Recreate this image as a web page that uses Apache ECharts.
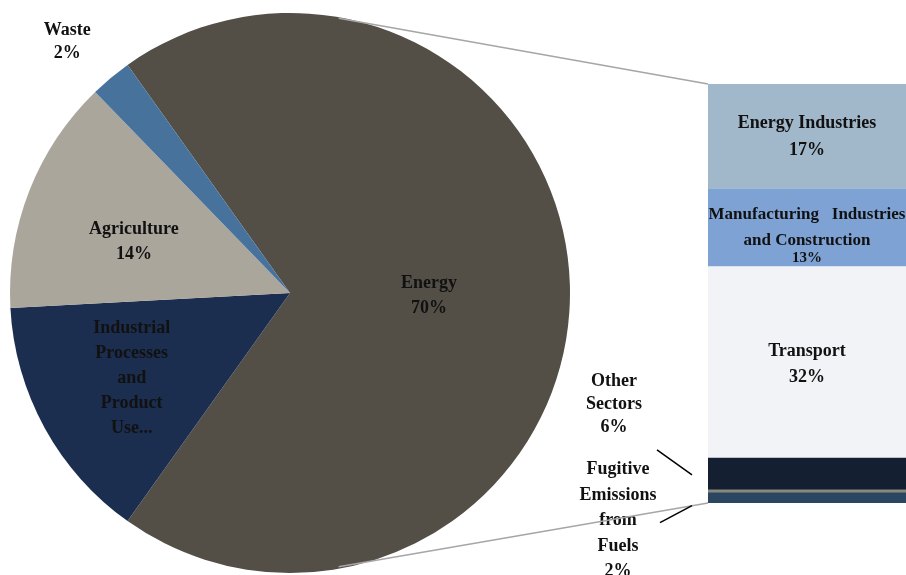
<!DOCTYPE html>
<html>
<head>
<meta charset="utf-8">
<script src="https://cdn.jsdelivr.net/npm/echarts@6/dist/echarts.min.js"></script>
<style>html,body{margin:0;padding:0;background:#fff}#c{width:906px;height:575px}</style>
</head>
<body>
<div id="c"></div>
<script>
// ---- data ----
const pieNames = ['Energy', 'Industrial Processes and Product Use', 'Agriculture', 'Waste'];
const pieValues = [69.7, 14.3, 13.6, 2.4];
const pieLabels = ['Energy\n70%', 'Industrial\nProcesses\nand\nProduct\nUse...', 'Agriculture\n14%', '{w|Waste}\n{w|2%}'];

const barNames = ['Fugitive Emissions from Fuels', 'Other Sectors', 'Transport', 'Manufacturing Industries and Construction', 'Energy Industries'];
const barValues = [2.1, 5.5, 31.9, 13.0, 17.4];
const barLabels = ['Fugitive\nEmissions\nfrom\nFuels\n2%', 'Other\nSectors\n6%', 'Transport\n32%', '{a|Manufacturing   Industries}\n{a|and Construction}\n{b|13%}', 'Energy Industries\n17%'];

// ---- style ----
const FONT = 'Liberation Serif';
const pieColors = ['#534f47', '#1b2e4f', '#aaa69c', '#46729c'];
const barColors = ['#2b4660', '#141f31', '#f2f3f7', '#7fa2d4', '#a1b7ca'];
const PIE_C = [290, 293], PIE_R = 280;
const GRID = {left: 708, top: 84, width: 208, bottom: 72};

const chart = echarts.init(document.getElementById('c'));
const barTotal = barValues.reduce((a, b) => a + b, 0);
const pieTotal = pieValues.reduce((a, b) => a + b, 0);
const startAngle = (pieValues[0] / pieTotal) * 180;

const pieOffsets = [[-4, 3], [-33, 16], [-23, 1], [12, -24]];
const pieLineHeights = [25, 25, 25, 23];

const barSeries = barValues.map((v, i) => {
  const s = {
    type: 'bar', stack: 'e', name: barNames[i], data: [v],
    barWidth: '100%',
    itemStyle: {color: barColors[i]},
    label: {
      show: true, position: 'inside', formatter: barLabels[i],
      fontFamily: FONT, fontWeight: 'bold', fontSize: 18, lineHeight: 26, color: '#111'
    },
    emphasis: {disabled: true}
  };
  if (i === 4) { s.label.lineHeight = 27; s.labelLayout = {dx: 0, dy: 1}; }
  if (i === 2) { s.labelLayout = {dx: 0, dy: 3}; }
  if (i === 3) {
    s.label.rich = {
      a: {fontFamily: FONT, fontWeight: 'bold', fontSize: 17, lineHeight: 26, color: '#111'},
      b: {fontFamily: FONT, fontWeight: 'bold', fontSize: 15, lineHeight: 10, color: '#111'}
    };
    s.labelLayout = {dx: 0, dy: 5};
  }
  if (i === 0 || i === 1) {
    s.label.position = 'left';
    s.label.align = 'center';
    s.label.lineHeight = i === 0 ? 25.5 : 23;
    s.labelLayout = i === 0 ? {dx: -85, dy: 24} : {dx: -89, dy: -70};
  }
  return s;
});

const pieData = pieValues.map((v, i) => {
  const d = {name: pieNames[i], value: v, itemStyle: {color: pieColors[i]}};
  if (i === 3) {
    d.label = {
      position: 'outside',
      rich: {w: {fontFamily: FONT, fontWeight: 'bold', fontSize: 18, lineHeight: 23, width: 52, align: 'center', color: '#111'}}
    };
  } else {
    d.label = {lineHeight: pieLineHeights[i]};
  }
  return d;
});

chart.setOption({
  animation: false,
  grid: {left: GRID.left, top: GRID.top, width: GRID.width, bottom: GRID.bottom},
  xAxis: {type: 'category', data: ['Energy'], show: false},
  yAxis: {type: 'value', min: 0, max: barTotal, show: false},
  series: [
    {
      type: 'pie', center: PIE_C, radius: PIE_R, startAngle: startAngle, clockwise: true,
      avoidLabelOverlap: false,
      data: pieData,
      label: {
        show: true, position: 'inside',
        formatter: p => pieLabels[p.dataIndex],
        fontFamily: FONT, fontWeight: 'bold', fontSize: 18, lineHeight: 25, color: '#111'
      },
      labelLine: {show: false, length: 15, length2: 15},
      labelLayout: p => ({dx: pieOffsets[p.dataIndex][0], dy: pieOffsets[p.dataIndex][1]}),
      emphasis: {disabled: true},
      itemStyle: {borderWidth: 0}
    }
  ].concat(barSeries)
});

// connector lines and leader lines computed from chart geometry (added directly, no re-layout)
const topPt = chart.convertToPixel({gridIndex: 0}, [0, barTotal]);
const botPt = chart.convertToPixel({gridIndex: 0}, [0, 0]);
const fugTop = chart.convertToPixel({gridIndex: 0}, [0, barValues[0]]);
const otherTop = chart.convertToPixel({gridIndex: 0}, [0, barValues[0] + barValues[1]]);
const barLeft = GRID.left;
const a = 80 * Math.PI / 180;
const p1 = [PIE_C[0] + PIE_R * Math.cos(a), PIE_C[1] - PIE_R * Math.sin(a) + 1];
const p2 = [PIE_C[0] + PIE_R * Math.cos(a), PIE_C[1] + PIE_R * Math.sin(a) - 2];
const otherMid = (otherTop[1] + fugTop[1]) / 2;
const fugMid = (fugTop[1] + botPt[1]) / 2;

const zr = chart.getZr();
const G = echarts.graphic;
const z = 100;
zr.add(new G.Line({shape: {x1: p1[0], y1: p1[1], x2: barLeft, y2: topPt[1]}, style: {stroke: '#a6a6a6', lineWidth: 1.5}, z: z}));
zr.add(new G.Line({shape: {x1: p2[0], y1: p2[1], x2: barLeft, y2: botPt[1]}, style: {stroke: '#a6a6a6', lineWidth: 1.5}, z: z}));
zr.add(new G.Rect({shape: {x: barLeft, y: fugTop[1] - 1, width: GRID.width, height: 3}, style: {fill: '#8a877e'}, z: z}));
zr.add(new G.Line({shape: {x1: barLeft - 51, y1: otherMid - 24, x2: barLeft - 16, y2: otherMid + 1}, style: {stroke: '#000', lineWidth: 1.5}, z: z}));
zr.add(new G.Line({shape: {x1: barLeft - 16, y1: fugMid + 9, x2: barLeft - 48, y2: fugMid + 26}, style: {stroke: '#000', lineWidth: 1.5}, z: z}));
</script>
</body>
</html>
